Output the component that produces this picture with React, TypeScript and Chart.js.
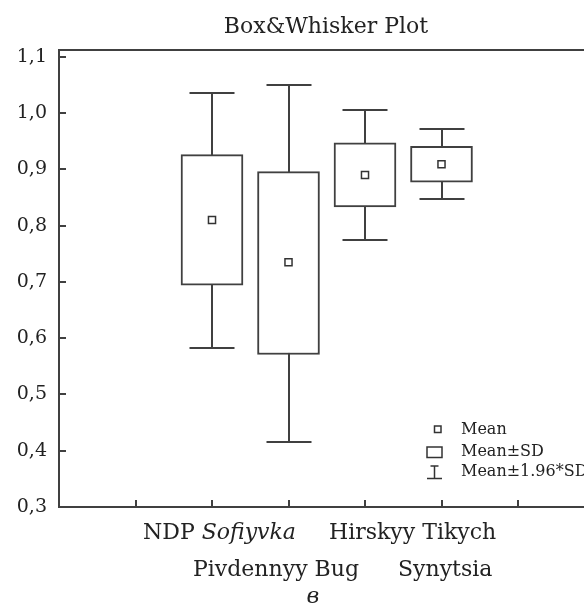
import React, { useEffect, useRef } from 'react';
import { Chart, registerables } from 'chart.js';

Chart.register(...registerables);

// ---- data ----
const categories = ['NDP Sofiyvka', 'Pivdennyy Bug', 'Hirskyy Tikych', 'Synytsia'];
const positions = [2, 3, 4, 5];
const means = [0.81, 0.735, 0.89, 0.909];
const sdLow = [0.694, 0.571, 0.833, 0.877];
const sdHigh = [0.926, 0.896, 0.947, 0.941];
const ciLow = [0.582, 0.416, 0.775, 0.847];
const ciHigh = [1.035, 1.05, 1.006, 0.971];
const yTicks = [0.3, 0.4, 0.5, 0.6, 0.7, 0.8, 0.9, 1.0, 1.1];
const xTicks = [1, 2, 3, 4, 5, 6];
const legendLabels = ['Mean', 'Mean±SD', 'Mean±1.96*SD'];
const chartTitle = 'Box&Whisker Plot';
const subLabel = 'в';

const LINE = '#404040';
const TEXT = '#222';
const SERIF = '"DejaVu Serif", serif';

const boxPlugin = {
  id: 'boxExtras',
  beforeDatasetsDraw(chart: any) {
    const { ctx, chartArea, scales } = chart;
    const xs = scales.x;
    const ys = scales.y;
    ctx.save();
    ctx.strokeStyle = LINE;
    ctx.lineWidth = 2;
    // frame
    ctx.strokeRect(chartArea.left, chartArea.top, chartArea.right - chartArea.left, chartArea.bottom - chartArea.top);
    // inward ticks
    ctx.beginPath();
    yTicks.forEach((v) => {
      const y = Math.round(ys.getPixelForValue(v));
      ctx.moveTo(chartArea.left, y);
      ctx.lineTo(chartArea.left + 7, y);
    });
    xTicks.forEach((v) => {
      const x = Math.round(xs.getPixelForValue(v));
      ctx.moveTo(x, chartArea.bottom);
      ctx.lineTo(x, chartArea.bottom - 7);
    });
    ctx.stroke();
    // whiskers
    ctx.beginPath();
    positions.forEach((p, i) => {
      const x = Math.round(xs.getPixelForValue(p));
      const yh = Math.round(ys.getPixelForValue(ciHigh[i]));
      const yl = Math.round(ys.getPixelForValue(ciLow[i]));
      ctx.moveTo(x, yh);
      ctx.lineTo(x, yl);
      ctx.moveTo(x - 22.5, yh);
      ctx.lineTo(x + 22.5, yh);
      ctx.moveTo(x - 22.5, yl);
      ctx.lineTo(x + 22.5, yl);
    });
    ctx.stroke();
    ctx.restore();
  },
  afterDraw(chart: any) {
    const { ctx } = chart;
    ctx.save();
    ctx.fillStyle = TEXT;
    // title
    ctx.textAlign = 'center';
    ctx.textBaseline = 'middle';
    ctx.font = `22px ${SERIF}`;
    ctx.fillText(chartTitle, 326, 27);

    ctx.textBaseline = 'alphabetic';
    ctx.textAlign = 'left';
    const f = `22px ${SERIF}`;
    const fi = `italic 22px ${SERIF}`;
    // row 1
    const a1 = 'NDP ';
    const a2 = categories[0].replace('NDP ', '');
    ctx.font = f;
    ctx.fillText(a1, 143, 539);
    const w1 = ctx.measureText(a1).width;
    ctx.font = fi;
    ctx.fillText(a2, 143 + w1, 539);
    ctx.font = f;
    ctx.fillText(categories[2], 329, 539);
    // row 2
    ctx.fillText(categories[1], 193, 576);
    ctx.fillText(categories[3], 398, 576);
    // sub label
    ctx.font = fi;
    ctx.textAlign = 'center';
    ctx.fillText(subLabel, 313, 603);

    // legend
    ctx.textAlign = 'left';
    ctx.textBaseline = 'middle';
    ctx.font = `16px ${SERIF}`;
    ctx.strokeStyle = '#333';
    ctx.lineWidth = 1.5;
    ctx.fillStyle = '#fff';
    ctx.fillRect(434.5, 426, 6.5, 6.5);
    ctx.strokeRect(434.5, 426, 6.5, 6.5);
    ctx.strokeRect(427, 447, 15, 10.5);
    ctx.beginPath();
    ctx.moveTo(430.5, 466);
    ctx.lineTo(438.5, 466);
    ctx.moveTo(434.5, 466);
    ctx.lineTo(434.5, 478.5);
    ctx.moveTo(427, 478.5);
    ctx.lineTo(442, 478.5);
    ctx.stroke();
    ctx.fillStyle = TEXT;
    ctx.fillText(legendLabels[0], 461, 430);
    ctx.fillText(legendLabels[1], 461, 452);
    ctx.fillText(legendLabels[2], 461, 472);
    ctx.restore();
  },
};

export default function App() {
  const ref = useRef<HTMLCanvasElement>(null);
  useEffect(() => {
    if (!ref.current) return;
    const chart = new Chart(ref.current, {
      type: 'bar',
      data: {
        datasets: [
          {
            type: 'scatter',
            label: legendLabels[0],
            data: positions.map((x, i) => ({ x, y: means[i] })),
            pointStyle: 'rect',
            pointRadius: 5,
            pointHoverRadius: 5,
            backgroundColor: '#fff',
            borderColor: '#333',
            borderWidth: 1.5,
            order: 0,
          } as any,
          {
            type: 'bar',
            label: legendLabels[1],
            data: positions.map((x, i) => ({ x, y: [sdLow[i], sdHigh[i]] })),
            backgroundColor: '#fff',
            borderColor: LINE,
            borderWidth: 2,
            borderSkipped: false,
            barThickness: 62,
            order: 1,
          } as any,
        ],
      },
      options: {
        responsive: false,
        animation: false,
        events: [],
        layout: { padding: { left: 0, right: 25.5, top: 50, bottom: 99 } },
        plugins: {
          legend: { display: false },
          tooltip: { enabled: false },
          title: { display: false },
        },
        scales: {
          x: { type: 'linear', min: 0, max: 7, display: false, offset: false, grid: { offset: false } },
          y: {
            type: 'linear',
            min: 0.3,
            max: 1.112,
            afterBuildTicks: (s: any) => {
              s.ticks = yTicks.map((v) => ({ value: v }));
            },
            afterFit: (s: any) => {
              s.width = 59;
            },
            grid: { display: false, drawTicks: false },
            border: { display: false },
            ticks: {
              padding: 12,
              color: TEXT,
              font: { family: SERIF, size: 19 },
              callback: (v: any) => Number(v).toFixed(1).replace('.', ','),
            },
          },
        },
      } as any,
      plugins: [boxPlugin],
    });
    return () => chart.destroy();
  }, []);
  return (
    <div style={{ position: 'fixed', left: 0, top: 0, width: 584, height: 606, overflow: 'hidden', background: '#fff' }}>
      <canvas ref={ref} width={620} height={606} style={{ display: 'block' }} />
    </div>
  );
}
